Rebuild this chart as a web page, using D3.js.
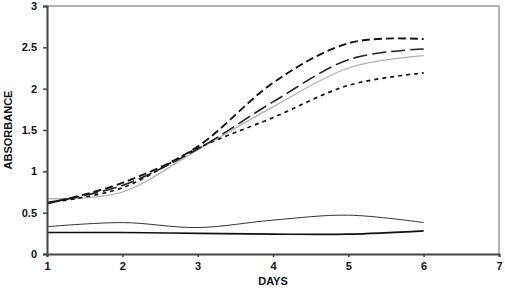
<!DOCTYPE html>
<html>
<head>
<meta charset="utf-8">
<script src="https://cdn.jsdelivr.net/npm/d3@7"></script>
<style>
  body { margin: 0; background: #fff; }
  text { font-family: "Liberation Sans", Arial, sans-serif; font-weight: bold; }
</style>
</head>
<body>
<div id="chart"></div>
<script>
const days = [1, 2, 3, 4, 5, 6];
const xTicks = [1, 2, 3, 4, 5, 6, 7];
const yTicks = [0, 0.5, 1, 1.5, 2, 2.5, 3];

const seriesShortDash = [0.61, 0.86, 1.30, 2.07, 2.55, 2.60];
const seriesLongDash = [0.62, 0.83, 1.27, 1.84, 2.35, 2.48];
const seriesGrey = [0.67, 0.75, 1.26, 1.78, 2.25, 2.40];
const seriesDotted = [0.62, 0.80, 1.28, 1.65, 2.04, 2.19];
const seriesThin = [0.33, 0.38, 0.32, 0.41, 0.47, 0.38];
const seriesBlack = [0.26, 0.26, 0.25, 0.24, 0.24, 0.28];

const width = 505, height = 290;
const margin = { top: 6, right: 6, bottom: 36, left: 47 };
const innerW = width - margin.left - margin.right;
const innerH = height - margin.top - margin.bottom;

const svg = d3.select('#chart').append('svg')
    .attr('width', width)
    .attr('height', height);

const g = svg.append('g')
    .attr('transform', `translate(${margin.left},${margin.top})`);

const x = d3.scaleLinear().domain([1, 7]).range([0, innerW]);
const y = d3.scaleLinear().domain([0, 3]).range([innerH, 0]);

// frame: light grey top and right
g.append('line').attr('x1', 0).attr('x2', innerW).attr('y1', 0).attr('y2', 0)
    .attr('stroke', '#999').attr('stroke-width', 1.5);
g.append('line').attr('x1', innerW).attr('x2', innerW).attr('y1', 0).attr('y2', innerH)
    .attr('stroke', '#999').attr('stroke-width', 1.5);

const line = d3.line()
    .x((d, i) => x(days[i]))
    .y(d => y(d))
    .curve(d3.curveCardinal.tension(0));

const series = [
    { values: seriesBlack, color: '#111', width: 1.6, dash: null },
    { values: seriesThin, color: '#333', width: 1, dash: null },
    { values: seriesGrey, color: '#b0b0b0', width: 1.3, dash: null },
    { values: seriesDotted, color: '#111', width: 1.7, dash: '4,4' },
    { values: seriesLongDash, color: '#222', width: 1.6, dash: '14,5' },
    { values: seriesShortDash, color: '#111', width: 1.9, dash: '8,4' }
];

g.selectAll('path.series')
    .data(series)
    .join('path')
    .attr('class', 'series')
    .attr('d', d => line(d.values))
    .attr('fill', 'none')
    .attr('stroke', d => d.color)
    .attr('stroke-width', d => d.width)
    .attr('stroke-dasharray', d => d.dash);

const xAxis = g.append('g')
    .attr('transform', `translate(0,${innerH})`)
    .call(d3.axisBottom(x).tickValues(xTicks).tickFormat(d3.format('d')).tickSize(3).tickPadding(5));
const yAxis = g.append('g')
    .call(d3.axisLeft(y).tickValues(yTicks).tickFormat(d => d).tickSize(4).tickPadding(6));

[xAxis, yAxis].forEach(a => {
    a.select('.domain').attr('stroke', '#444').attr('stroke-width', 2);
    a.selectAll('.tick line').attr('stroke', '#444').attr('stroke-width', 1.5);
    a.selectAll('.tick text').attr('fill', '#111').style('font-size', '11px');
});

svg.append('text')
    .attr('x', margin.left + x(4))
    .attr('y', 285)
    .attr('text-anchor', 'middle')
    .style('font-size', '11px')
    .attr('fill', '#111')
    .text('DAYS');

svg.append('text')
    .attr('transform', `translate(12,${margin.top + y(1.5)}) rotate(-90)`)
    .attr('text-anchor', 'middle')
    .style('font-size', '11px')
    .attr('fill', '#111')
    .text('ABSORBANCE');
</script>
</body>
</html>
